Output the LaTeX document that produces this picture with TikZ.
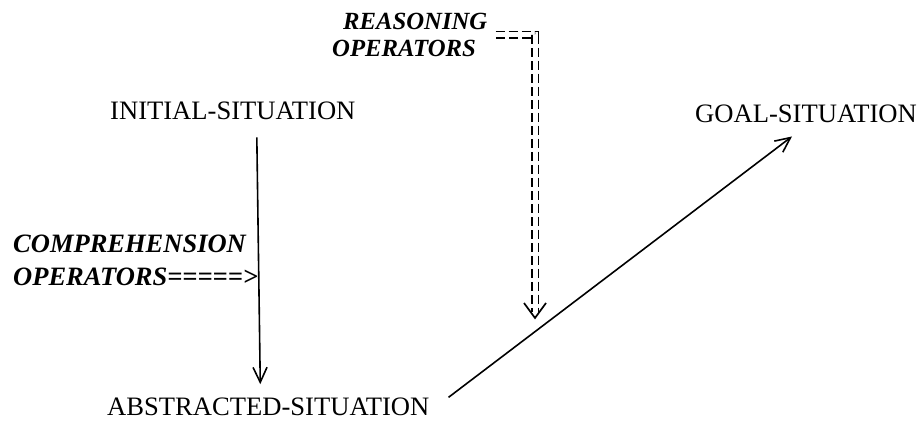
\documentclass[tikz,border=0pt]{standalone}
\usepackage{fontspec}
\setmainfont{Liberation Serif}
\usetikzlibrary{arrows.meta,calc}
\begin{document}
\begin{tikzpicture}[x=1pt,y=-1pt,
  lbl/.style={font=\fontsize{26.6}{26.6}\selectfont, inner sep=0pt, anchor=base west},
  oplbl/.style={inner sep=0pt, align=left, anchor=north west},
  conn/.style={line width=1.6pt, -{Straight Barb[length=15pt,width=14pt,line width=1.6pt]}},
  dbl/.style={line width=1.8pt, double, double distance=5pt, dash pattern=on 9pt off 4pt},
  headv/.style={line width=1.7pt},
]
\useasboundingbox (0,0) rectangle (924,422);
\node[lbl] (init) at (110,120) {INITIAL-SITUATION};
\node[lbl] (abs) at (107,415) {ABSTRACTED-SITUATION};
\node[lbl] (goal) at (695,123) {GOAL-SITUATION};
\node[oplbl, font=\fontsize{24.7}{27}\selectfont\bfseries\itshape] (reas) at (332,13)
  {\hspace*{11pt}REASONING\\OPERATORS};
\node[oplbl, font=\fontsize{26.5}{33}\selectfont\bfseries\itshape] (comp) at (13,235)
  {COMPREHENSION\\OPERATORS=====>};
% comprehension to abstracted
\draw[conn] ([xshift=24pt,yshift=-17pt]init.south) -- ([xshift=-8pt,yshift=13pt]abs.north);
% abstracted to goal
\draw[conn] ([xshift=19pt,yshift=9pt]abs.east) -- ([xshift=97pt,yshift=-13pt]goal.south west);
% reasoning operators double dashed arrow
\coordinate (dtip) at (535,318);
\draw[dbl] ([xshift=8pt]reas.east) -| ($(dtip)+(0,-6)$);
\draw[headv] ($(dtip)+(-11,-15)$) -- (dtip) -- ($(dtip)+(11,-15)$);
\end{tikzpicture}
\end{document}
